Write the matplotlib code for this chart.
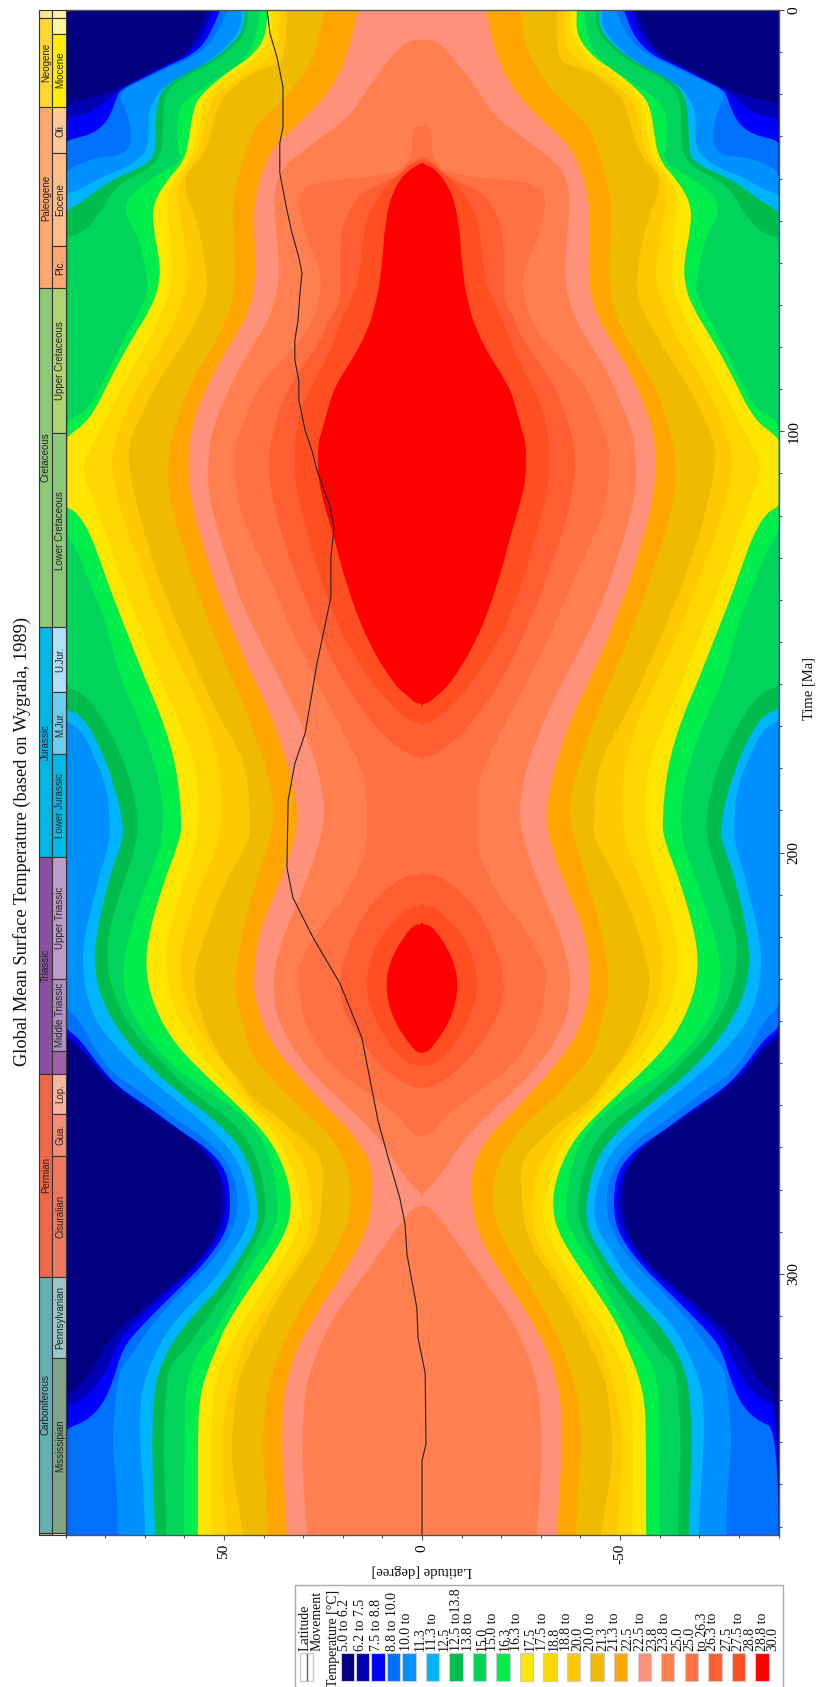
import numpy as np
import matplotlib
matplotlib.use("Agg")
import matplotlib.pyplot as plt
from matplotlib.patches import PathPatch, Rectangle
from matplotlib.path import Path
from matplotlib.ticker import MultipleLocator

plt.rcParams["axes.unicode_minus"] = False

SERIF = ["Liberation Serif", "DejaVu Serif"]
SANS = ["Liberation Sans", "DejaVu Sans"]

# Band colours, coldest first
band_colors = ["#000080", "#0000B4", "#0000FF", "#0070FF", "#0090FF", "#00B4FF",
               "#00BC4C", "#00D45A", "#00EE4C", "#FFE600", "#FFD700", "#FFC800",
               "#EEBB00", "#FFA500", "#FF917A", "#FF7F50", "#FF7043", "#FF5E33",
               "#FF4F20", "#FF0000"]
legend_lines = ["5.0 to 6.2", "6.2 to 7.5", "7.5 to 8.8", "8.8 to 10.0", "10.0 to", "11.3", "11.3 to", "12.5",
                "12.5 to13.8", "13.8 to", "15.0", "15.0 to", "16.3", "16.3 to", "17.5", "17.5 to", "18.8",
                "18.8 to", "20.0", "20.0 to", "21.3", "21.3 to", "22.5", "22.5 to", "23.8", "23.8 to", "25.0",
                "25.0", "to 26.3", "26.3 to", "27.5", "27.5 to", "28.8", "28.8 to", "30.0"]

# Isotherms as (time Ma, latitude reach in degrees); the field is mirrored about the equator
iso_06_2 = [(0,54.3),(6.4,56.8),(11.4,60.6),(13.8,66.9),(16.6,72),(19,77),(21.4,85.6),(22,90),(244.2,90),
            (246.3,86.4),(251.8,82),(255.8,78),(260.6,70.4),(265.3,62.9),(270.8,54.3),(276.3,51),(283.4,50.5),
            (290.5,51.8),(297.6,56.8),(302.4,62.9),(308,70.4),(315.2,78.8),(320.7,82),(327,86.4),(328.7,90),(362,90)]
iso_07_5 = [(0,52.8),(6.4,55.3),(10.7,59.3),(13,64.4),(16.2,71.2),(19,76.8),(24.5,83),(25.7,90),(243,90),
            (245.4,86.8),(251,82),(254.9,78),(260.6,69.4),(265.3,61.9),(270.1,55.3),(276.3,50.5),(283.4,49.2),
            (289.8,50.5),(297.4,56),(302.4,61.9),(308.8,69.4),(315.2,76.3),(320.7,78.3),(327.8,83),(330.2,86.4),
            (331.8,90),(362,90)]
iso_08_8 = [(0,51),(6.4,53.5),(10.7,58),(13,63.6),(16.2,70.4),(19,76.3),(20.7,77),(26.8,79.5),(29.7,83.8),(30.9,90),
            (241.8,90),(244.2,86.4),(251,81.3),(256,76.3),(260.6,68.7),(266,61.1),(270.1,54.3),(275.5,49.2),
            (283.4,48.2),(289.8,49.2),(296.9,54.3),(303.3,61.1),(308,66.2),(312.8,71.2),(317.5,75.5),(325.4,78),
            (330.9,80.5),(334.9,84.6),(336.8,90),(362,90)]
iso_10_0 = [(0,49),(6.4,51.8),(10.7,56.8),(13,62.4),(16.2,69.4),(19,75.8),(21.4,76.3),(24.5,74.2),(31.6,73.2),
            (34.4,75.5),(34.9,81.3),(36.3,86.4),(38.5,90),(236.8,90),(239.9,86.4),(247.7,82),(253.4,77),(256.5,71.2),
            (262.9,62.9),(269.1,52.8),(275.5,47.7),(283.4,46.2),(290.5,48),(296.9,52.8),(302.4,58.6),(308,64.4),
            (313.5,69.4),(320.7,74.2),(322.3,76.3),(334.2,78),(344.4,78),(349.9,77),(362,76.8)]
iso_11_3 = [(0,45.5),(4,45.5),(7.9,48.5),(12.6,54.3),(15.9,61.1),(18.3,65.4),(20.2,66.9),(24.5,69.4),(32.5,68.7),
            (36.8,73),(39.7,81.3),(42.8,86.4),(43.5,90),(169,90),(170.3,86.4),(176.5,83),(184.6,79.5),(192.4,78.8),
            (197.1,78.8),(205,81.3),(220.9,85.6),(230.4,85.6),(239.2,83),(245.4,78),(251.8,71.2),(258.2,62.9),
            (266,52.8),(273.2,46),(283.4,43.2),(289,44),(294.5,47.7),(300.9,51.8),(308,59.3),(313.5,64.4),(320,67.9),
            (326.1,70.4),(331.8,71.2),(339.7,71.2),(349.9,70.4),(362,69.9)]
iso_12_5 = [(0,44.7),(4,44.7),(7.9,47.7),(12.3,53.5),(15.4,60.3),(17.8,64.4),(21.4,66.9),(29.2,67.4),(34.9,67.4),
            (37.5,71.2),(39.7,77),(42.3,81.3),(45.9,86.4),(47.7,90),(166.3,90),(167,86.4),(173.4,82),(182.9,78),
            (192.4,75.5),(197.1,75.5),(205,78.8),(220.9,82.6),(228.7,82.6),(235.9,80.5),(243.9,75.5),(251,68.7),
            (257.3,61.1),(264.4,51),(272.4,43.9),(283.4,41.2),(289.8,41.9),(295.3,45.4),(303.3,51),(308.8,56.8),
            (315.9,62.9),(320.7,65.4),(326.1,67.4),(338,68.2),(347.5,67.9),(362,67.4)]
iso_13_8 = [(0,43.9),(4,43.9),(7.9,46.5),(12.3,52.3),(15.4,59.1),(17.8,63.1),(21.4,65.4),(30.9,65.4),(34.9,66.2),
            (38,69.4),(39.7,73.7),(42.8,78),(48.2,81.3),(53,85.6),(53.9,90),(160.6,90),(162.2,85.6),(167,81.3),
            (175.8,76.3),(184.6,73),(192.4,71.7),(197.1,72),(205,74.5),(219.2,79.5),(228,79.5),(235.9,77),(243.9,72),
            (250.1,65.4),(257.3,57.8),(263.7,47.7),(271.5,41.7),(283.4,39.1),(289,40.1),(296.9,44.7),(303.3,48.5),
            (310.5,54.3),(317.6,59.3),(321.4,63.6),(326.1,64.6),(339.7,65.4),(349.9,64.9),(362,64.6)]
iso_15_0 = [(0,40.9),(6,41.7),(11.4,44.2),(15.4,50.2),(19,56),(23,61.9),(33.3,61.9),(35.6,60.3),(38.7,66.2),
            (44.4,74.7),(49.2,74.7),(53,72),(58.7,70.4),(64.8,69.2),(67.2,69.2),(71.3,71.2),(76.7,74.5),(84.8,78.8),
            (94.3,83.8),(96.7,88.1),(98,90),(124.2,90),(128.3,86.9),(134.7,84.6),(140.1,82),(146.6,79.5),(158.4,76.3),
            (167.9,71.7),(176.5,68.2),(186.9,65.4),(197.1,65.4),(205,68.7),(220.2,74.2),(228.7,75.8),(236.8,74.2),
            (243.9,69.4),(251,62.9),(257.3,52.8),(262.9,44.2),(270.8,38.4),(283.4,36.1),(289.8,37.1),(298.6,43.9),
            (306.4,47.7),(314.3,52.8),(319,56.8),(324.7,59.3),(331.8,60),(362,60)]
iso_16_3 = [(0,39.1),(6,38.9),(11.4,43.4),(14.3,48.5),(20.2,56),(23.8,57.8),(29.2,58.6),(35.6,59.8),(40.4,64.4),
            (45.9,67.9),(51.5,67.9),(59.4,66.2),(64.8,66.2),(70.5,68.2),(77.7,73),(86.2,78),(97.4,83.8),(101.4,90),
            (118,90),(119.2,87.1),(124.2,83.8),(130.6,81.3),(139.4,78),(149.6,73.7),(159.9,69.4),(168.6,65.4),
            (179.8,61.9),(192.4,60.6),(197.1,61.1),(207.4,65.4),(220.9,69.4),(228.7,69.7),(235.9,67.9),(243.9,63.6),
            (251,56.8),(258.9,47.7),(267.7,38.4),(276.3,34.1),(283.4,32.8),(289.8,34.1),(297.6,39.1),(305.7,45.2),
            (313.5,50.2),(315.9,51),(323,54.3),(330.2,56.3),(339.7,56.6),(362,56.6)]
iso_17_5 = [(0,37.6),(5.5,37.6),(11.2,41.4),(12.6,43.4),(14.7,47.7),(19,52.8),(21.4,55.3),(29.2,56.6),(36.3,58.6),
            (40.4,62.9),(45.1,64.6),(53,63.6),(64.8,62.9),(71.3,65.4),(79.1,69.4),(87.2,74.5),(96.7,79.5),(103.8,83.8),
            (109.3,85.9),(114,83.8),(125.2,79.5),(136.1,75.5),(148,70.4),(158.4,66.2),(169.4,61.1),(179.8,56.8),
            (195.5,56),(207.4,60.3),(220.9,64.6),(228.7,64.6),(236.8,62.9),(245.4,57.8),(252.5,51.8),(261.3,42.5),
            (265.3,38.4),(271.5,34.1),(282.7,30.3),(289.8,30.8),(301.7,38.4),(308.8,43.4),(315.9,48),(323.8,51.8),
            (331.8,53),(347.5,53.5),(362,53)]
iso_18_8 = [(0,35.9),(7.8,35.9),(11.2,38.4),(13.5,40.9),(15.9,46),(18.3,49.2),(21.4,53.5),(29.2,55.3),(34.9,56.8),
            (40.4,61.1),(44.4,61.9),(53,60.3),(61,59.1),(64.8,59.1),(72.9,61.9),(80.8,66.2),(88.6,71.2),(96.7,75.5),
            (105.2,78.3),(109.3,78.3),(121.1,75.5),(133.7,70.4),(146.6,65.4),(159.1,59.3),(168.6,54.3),(181.2,50.5),
            (197.1,50.5),(207.4,56),(220.9,60.6),(228.7,61.1),(236.8,59.3),(245.4,54.3),(252.5,47.7),(259.6,43.4),
            (263.7,37.6),(269.1,32.6),(277.9,27.8),(291.4,27.8),(301.7,35.1),(313.5,43.4),(315.9,44.7),(326.1,48.5),
            (336.6,50.5),(347.5,50.5),(362,49.2)]
iso_20_0 = [(0,34.1),(11.9,34.1),(13.5,38.4),(15,43.4),(19,48.5),(21.4,51),(27.8,52.8),(34.9,55.3),(38.7,59.8),
            (43.5,59.8),(49.9,56.8),(58.7,54.8),(67.2,54),(73.6,56.8),(81.5,61.9),(88.6,66.9),(96.7,71.2),(102.9,74),
            (107.6,74),(114,73),(129,68.7),(141.8,63.6),(154.4,57.8),(167,51.8),(178.9,44.2),(192.4,43.4),(197.1,43.4),
            (207.4,50.2),(224.9,56.8),(231.1,57.8),(238.2,56),(247.7,51.8),(254.9,45.2),(258.2,43.4),(263.7,35.1),
            (269.1,29),(273.2,25),(280.3,25),(292.2,26.3),(303.3,35.1),(318.3,43.4),(326.1,46.7),(338,48),(346,48),
            (353.9,46.5),(362,45.2)]
iso_21_3 = [(0,24.7),(9.5,26.3),(16.6,30.8),(21.4,35.1),(26.1,40.9),(30.2,43.4),(38,46),(45.8,48),(56.3,47.5),
            (64.1,47.2),(72,48.5),(80,52.8),(87.2,57.8),(96.7,61.9),(107.6,64.4),(117.1,63.6),(130.6,59.3),(144.2,54.3),
            (157.5,48.5),(168.6,43.4),(187.6,36.6),(197.1,38.4),(211.4,43.4),(230.4,48),(240.6,45.2),(247.7,43.4),
            (253.4,38.4),(260.6,30.8),(267.7,22.5),(276.3,18.2),(282.7,17.7),(289,18.9),(300.9,25.8),(311.2,32.6),
            (322.3,37.6),(333.3,40.1),(345.1,40.1),(353.2,39.1),(362,38.9)]
iso_22_5 = [(0,16.2),(9.5,18.2),(18.3,22.5),(24.5,28.3),(30.2,35.1),(34,38.4),(38,40.1),(45.8,42.4),(52.3,42.4),
            (63.4,41.9),(71.3,43.4),(78.4,47.7),(86.2,52.8),(97.4,57.8),(105.2,59.1),(115.7,58.6),(130.6,54.3),
            (144.2,49.2),(156.8,43.4),(170.3,36.6),(187.6,31.3),(195.5,31.6),(207.4,35.9),(217.8,40.9),(229.7,42.7),
            (236.8,41.7),(244.7,38.4),(251.8,32.6),(260.6,24),(266.7,17.4),(273.9,12.6),(282.7,12.4),(289.8,13.9),
            (298.6,18.9),(310.5,27.5),(320,32.6),(329.5,35.1),(341.3,35.4),(353.2,34.6),(362,34.1)]
iso_23_8 = [(7.1,0),(7.1,3),(8.8,5.6),(16.6,12.4),(25.4,18.2),(30.9,26.5),(34,30.8),(38,35.9),(45.1,37.6),(56.3,36.4),
            (63.4,35.9),(71.3,37.6),(78.4,41.7),(85.5,46.7),(99,52.8),(105.2,54),(115.7,54),(130.6,49.2),(144.2,44.2),
            (159.9,35.1),(175.8,27.5),(187.6,24.5),(195.5,25),(209,30),(221.6,35.9),(232.1,37.9),(241.6,35.9),
            (251.1,29),(257.2,22.5),(263.7,14.9),(269.1,9.8),(277.9,3.8),(281,0),(284.1,0),(284.1,2),(288.1,5.6),(293.8,9.8),
            (301.7,15.7),(310.5,22.5),(318.3,26.5),(327.1,29.5),(339.7,30.3),(349.2,30),(362,29)]
iso_25_0 = [(27.6,0),(27.6,1.5),(29,2.3),(31.6,2.5),(34.9,2.5),(36.3,3.8),(38.7,6.3),(39.9,15.7),(40.9,27.5),(43.5,31.3),
            (49.2,30.8),(56.3,28.3),(62.5,25.3),(69.6,25.8),(76.7,29),(83.8,35.9),(88.6,40.9),(98.1,45.2),(105.2,47.7),
            (117.1,46.7),(125.2,43.4),(133,39.1),(142.5,35.1),(151.3,30.8),(163.9,24),(174.1,18.2),(182.2,14.4),
            (187.6,13.9),(199.5,13.9),(205,16.4),(211.4,19.9),(215.4,24),(225.7,30.8),(230.4,31.6),(241.6,29.5),
            (251.1,22.5),(255.8,15.7),(262,6.3),(267.2,2),(267.2,0)]
iso_26_3 = [(34.9,0),(35.6,2.3),(39.7,6.3),(42.8,14.9),(48.2,18.9),(54.6,20.7),(65.8,20.7),(69.6,20.7),(72.9,23.2),
            (77.7,25),(85.5,30.8),(90.3,34.1),(99.8,37.6),(105.2,38.6),(112.4,38.6),(122.8,35.9),(132.3,32.6),
            (146.6,26.5),(158.4,20.7),(171,11.4),(177.2,3),(177.2,0),(205.2,0),(205.2,3),(206.7,6.3),(211.4,12.4),(219.2,17.4),
            (230.4,21.2),(237.5,19.9),(245.4,14.9),(251.1,9.8),(255.8,3),(255.8,0)]
iso_27_5 = [(35.6,0),(36.3,2.3),(39.2,6.3),(44.4,11.4),(50.6,14.4),(57.7,15.2),(64.8,16.2),(69.6,18.2),(76,21.5),
            (81.5,23.2),(92,29.5),(97.4,31.3),(102.9,32.1),(112.4,32.1),(124.2,29),(140.1,24),(152,18.2),(163.2,9.8),
            (169.1,3),(169.1,0),(212.8,0),(212.8,3),(215.4,6.3),(220.9,11.4),(228.7,13.9),(234.4,13.9),(242.3,10.6),(248.7,5.6),
            (250.6,2),(250.6,0)]
iso_28_8 = [(36.3,0),(38,3.8),(42.8,7.3),(49.9,9.3),(61,10.1),(68.9,11.4),(76.7,13.9),(83.8,18.2),(88.6,21.5),
            (92.6,23.2),(99.8,25.2),(102.9,26.3),(112.4,26.3),(124.2,22.5),(137.1,18.9),(149.6,13.9),(159.9,7.3),
            (163.4,3),(164.6,1.5),(164.6,0),(217.1,0),(217.1,2),(220.2,4.8),(225.7,8.1),(232.1,9.3),(239.9,7.3),(246.6,2.3),
            (247.5,1),(247.5,0)]
isotherms = [iso_06_2, iso_07_5, iso_08_8, iso_10_0, iso_11_3, iso_12_5, iso_13_8, iso_15_0, iso_16_3, iso_17_5,
             iso_18_8, iso_20_0, iso_21_3, iso_22_5, iso_23_8, iso_25_0, iso_26_3, iso_27_5, iso_28_8]

# Latitude movement curve
move_t = [0,5.5,11.2,18.3,27.8,31.6,38.7,47.5,53,58.7,62.5,67.2,73.6,78.4,83.1,87.9,92.6,99.8,104.5,109.3,118,122.8,
          129.9,139.4,155.1,171.7,178.9,187.6,203.6,210.7,220.2,231.1,243.9,263.7,273.9,282,288.1,295.3,308.1,315.2,
          323.5,340.4,344.4,362]
move_lat = [39.1,38.4,36.6,35.1,35.1,35.9,35.9,34.1,32.8,31.1,30.3,30.8,31.3,32.1,32.1,31.1,31.1,29.5,27.8,26.5,23.2,
            22.2,23,23,26.5,29.5,32.1,33.8,34.1,32.6,27.5,20.7,15.2,11.1,8.1,5.6,4.3,3.8,1.3,1,-0.8,-1,0,0]

# Stratigraphy columns
era_names = ["", "Neogene", "Paleogene", "Cretaceous", "Jurassic", "Triassic", "Permian", "Carboniferous", ""]
era_edges = [0, 2, 23, 66, 146.5, 201, 252.5, 300.7, 361.5, 362]
era_colors = ["#F8E890", "#FFD633", "#FBA870", "#8CC878", "#00B6E6", "#8C50A0", "#EE6748", "#67AEB2", "#E0A050"]
epoch_names = ["", "", "Miocene", "Oli.", "Eocene", "Plc.", "Upper Cretaceous", "Lower Cretaceous", "U.Jur.", "M.Jur.",
               "Lower Jurassic", "Upper Triassic", "Middle Triassic", "", "Lop.", "Gua.", "Cisuralian", "Pennsylvanian",
               "Mississipian", ""]
epoch_edges = [0, 2, 5.6, 23, 34, 56, 66, 100.5, 146.5, 162, 176.7, 201, 230, 247, 252.5, 262, 272, 300.7, 320, 361.5, 362]
epoch_colors = ["#FFF0B0", "#FFF5A0", "#FFEE00", "#FDC89A", "#FDBE8A", "#FDA870", "#B0D470", "#8CC878", "#AEE0F8",
                "#70CCEE", "#00BAE6", "#BE9CC8", "#B090C0", "#A060A8", "#FBB4A0", "#F48C78", "#EE7860", "#99C8C8",
                "#7EA58A", "#FBE8B0"]

W, H = 826, 1687
fig = plt.figure(figsize=(W / 100, H / 100), dpi=100)
fig.patch.set_facecolor("white")

# axes box in pixels
L, R, T, B = 65.5, 778.5, 10, 1535
ax = fig.add_axes([L / W, 1 - B / H, (R - L) / W, (B - T) / H])
ax.set_facecolor(band_colors[0])
ax.set_xlim(90, -90)
ax.set_ylim(362, 0)


def smooth_run(run):
    # read points act as bezier controls; flat stretches on the pole or the equator stay straight
    verts, codes = [run[0]], [Path.LINETO]
    for i in range(1, len(run) - 1):
        step = run[i + 1] - run[i]
        flat = run[i][0] == run[i + 1][0] and abs(run[i][0]) in (0, 90)
        frac = 0.5 if not flat else min(0.5, 1.0 / abs(step[1]))
        verts += [run[i], run[i] + step * frac]
        codes += [Path.CURVE3, Path.CURVE3]
        if flat and i < len(run) - 2:
            verts.append(run[i + 1] - step * frac)
            codes.append(Path.LINETO)
    verts.append(run[-1])
    codes.append(Path.LINETO)
    return verts, codes


def band_path(pts):
    t, reach = np.array(pts, dtype=float).T
    side = np.column_stack([reach, t])
    other = np.column_stack([-reach, t])[::-1]
    v1, c1 = smooth_run(side)
    v2, c2 = smooth_run(other)
    c1[0] = Path.MOVETO
    return Path(np.array(v1 + v2 + [side[0]]), c1 + c2 + [Path.CLOSEPOLY])


# warmer bands painted over colder ones
for pts, col in zip(isotherms, band_colors[1:]):
    ax.add_patch(PathPatch(band_path(pts), facecolor=col, edgecolor="none", linewidth=0))

ax.plot(move_lat, move_t, color="#222222", lw=0.8)

ax.yaxis.tick_right()
ax.yaxis.set_major_locator(MultipleLocator(100))
ax.yaxis.set_minor_locator(MultipleLocator(10))
ax.xaxis.set_major_locator(MultipleLocator(50))
ax.xaxis.set_minor_locator(MultipleLocator(10))
ax.tick_params(which="major", length=3.5, width=0.8, color="#555555", pad=3)
ax.tick_params(which="minor", length=2.5, width=0.8, color="#555555")
for lab in ax.get_xticklabels() + ax.get_yticklabels():
    lab.set_rotation(90)
    lab.set_family(SERIF)
    lab.set_fontsize(11)
    lab.set_verticalalignment("center")
for lab in ax.get_xticklabels():
    lab.set_verticalalignment("top")
for lab in ax.get_yticklabels():
    lab.set_horizontalalignment("left")
for side_name in ax.spines:
    ax.spines[side_name].set_color("#555555")
    ax.spines[side_name].set_linewidth(1)
ax.spines["left"].set_color("#222222")


def column(x0, x1, edges, colors, names, label_x):
    ax_s = fig.add_axes([x0 / W, 1 - B / H, (x1 - x0) / W, (B - T) / H])
    ax_s.set_xlim(0, 1)
    ax_s.set_ylim(362, 0)
    ax_s.axis("off")
    for i, col in enumerate(colors):
        ax_s.add_patch(Rectangle((0, edges[i]), 1, edges[i + 1] - edges[i], facecolor=col,
                                 edgecolor="#333333", linewidth=0.8, clip_on=False))
        if names[i]:
            ax_s.text(label_x, (edges[i] + edges[i + 1]) / 2, names[i], rotation=90, ha="center", va="center",
                      family=SANS, fontsize=7, color="#222222")


column(38.5, 52, era_edges, era_colors, era_names, 0.55)
column(52, 65.5, epoch_edges, epoch_colors, epoch_names, 0.6)

# overlay in pixel units for titles and legend
ov = fig.add_axes([0, 0, 1, 1])
ov.set_xlim(0, W)
ov.set_ylim(H, 0)
ov.axis("off")
ov.patch.set_alpha(0)

ov.text(22, 841, "Global Mean Surface Temperature (based on Wygrala, 1989)", rotation=90, ha="center", va="center",
        family=SERIF, fontsize=13.2, color="#111111")
ov.text(809, 688, "Time [Ma]", rotation=90, ha="center", va="center", family=SERIF, fontsize=10.5, color="#111111")
ov.text(422, 1570, "Latitude [degree]", rotation=180, ha="center", va="center", family=SERIF, fontsize=10.5,
        color="#111111")

# legend box
ov.add_patch(Rectangle((294.5, 1585), 488, 110, facecolor="white", edgecolor="#AAAAAA", linewidth=1))
ov.add_patch(Rectangle((300, 1653), 13, 28, facecolor="white", edgecolor="#CCCCCC", linewidth=1))
ov.plot([306.5, 306.5], [1654, 1680], color="#666666", lw=1)
text_kw = dict(rotation=90, ha="center", va="bottom", family=SERIF, fontsize=10, color="#111111")
ov.text(305, 1651, "Latitude", **text_kw)
ov.text(317.5, 1651, "Movement", **text_kw)
ov.text(333, 1687, "Temperature [\u00b0C]", **text_kw)

swatch_x = [341, 356, 371.3, 386.7, 402.3, 425.7, 449.3, 472.7, 496.3, 519.7, 543.3, 566.7, 590.3, 614, 637.7, 661,
            684.7, 708.3, 731.7, 755.3]
for sx, col in zip(swatch_x, band_colors):
    ov.add_patch(Rectangle((sx, 1653), 13.3, 28, facecolor=col, edgecolor="#CCCCCC", linewidth=0.8))

legend_line_x = [345, 361, 377, 392, 407, 420, 432, 444, 457, 469, 482, 493, 505, 517, 530, 542, 554, 567, 578, 591,
                 603, 615, 628, 640, 653, 665, 678, 690, 703, 713, 727, 738, 750, 762, 773]
for lx, line in zip(legend_line_x, legend_lines):
    ov.text(lx, 1651, line, **text_kw)

fig.savefig("out.png", dpi=100)
